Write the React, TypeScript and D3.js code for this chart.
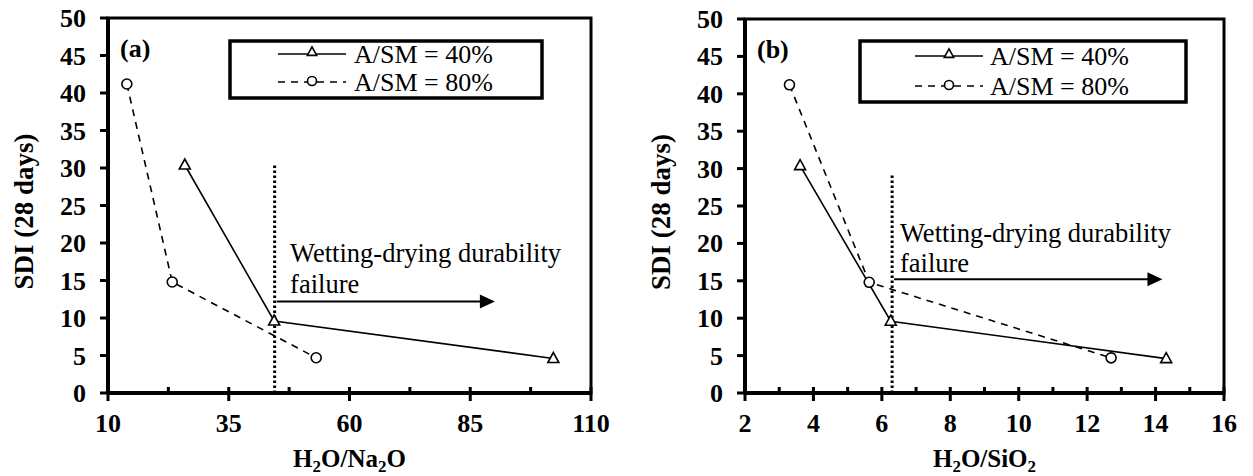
import React from "react";
import * as d3 from "d3";

// SDI after 28 days, shared by both panels
const sdi40 = [30.4, 9.6, 4.6];
const sdi80 = [41.2, 14.8, 4.7];
// H2O/Na2O ratios
const naRatio40 = [25.9, 44.4, 102.2];
const naRatio80 = [13.9, 23.3, 53.1];
// H2O/SiO2 ratios
const siRatio40 = [3.61, 6.26, 14.31];
const siRatio80 = [3.3, 5.63, 12.7];

const yTicks = [0, 5, 10, 15, 20, 25, 30, 35, 40, 45, 50];
const naTicks = [10, 35, 60, 85, 110];
const naMinor = [22.5, 47.5, 72.5, 97.5];
const siTicks = [2, 4, 6, 8, 10, 12, 14, 16];
const siMinor = [3, 5, 7, 9, 11, 13, 15];

const legendLabels = ["A/SM = 40%", "A/SM = 80%"];
const noteLines = ["Wetting-drying durability", "failure"];

const serif = { fontFamily: "Liberation Serif" };
const bold = { fontFamily: "Liberation Serif", fontWeight: 700 };

function triangle(cx: number, cy: number, s = 1) {
  return `M${cx},${cy - 6 * s}L${cx + 5.5 * s},${cy + 4 * s}L${cx - 5.5 * s},${cy + 4 * s}Z`;
}

type PanelProps = {
  tag: string;
  left: number;
  right: number;
  top: number;
  bottom: number;
  xDomain: [number, number];
  majors: number[];
  minors: number[];
  x40: number[];
  x80: number[];
  limitX: number;
  limitTop: number;
  arrowY: number;
  arrowEnd: number;
  noteX: number;
  noteY: number[];
  legend: { x0: number; x1: number; y0: number; y1: number; sample: [number, number]; textX: number; rows: number[] };
  xTitle: React.ReactNode;
};

function Panel(p: PanelProps) {
  const x = d3.scaleLinear().domain(p.xDomain).range([p.left, p.right]);
  const y = d3.scaleLinear().domain([0, 50]).range([p.bottom, p.top]);
  const line = d3.line<[number, number]>().x((d) => x(d[0])).y((d) => y(d[1]));
  const pts40 = p.x40.map((v, i) => [v, sdi40[i]] as [number, number]);
  const pts80 = p.x80.map((v, i) => [v, sdi80[i]] as [number, number]);
  const mid = (p.left + p.right) / 2;
  const lg = p.legend;
  const mk = (lg.sample[0] + lg.sample[1]) / 2;

  return (
    <g>
      {/* frame */}
      <rect x={p.left} y={p.top} width={p.right - p.left} height={p.bottom - p.top} fill="none" stroke="#000" strokeWidth={3} />
      <line x1={p.left} x2={p.left} y1={p.top} y2={p.bottom} stroke="#000" strokeWidth={4} />
      <line x1={p.left} x2={p.right} y1={p.bottom} y2={p.bottom} stroke="#000" strokeWidth={4} />

      {/* y ticks */}
      {yTicks.map((t) => (
        <g key={"y" + t}>
          <line x1={p.left - 8} x2={p.left} y1={y(t)} y2={y(t)} stroke="#000" strokeWidth={3} />
          <text x={p.left - 22} y={y(t) + 9} textAnchor="end" fontSize={26} style={bold}>
            {t}
          </text>
        </g>
      ))}

      {/* x ticks */}
      {p.majors.map((t) => (
        <g key={"x" + t}>
          <line x1={x(t)} x2={x(t)} y1={p.bottom - 6} y2={p.bottom + 8} stroke="#000" strokeWidth={3} />
          <text x={x(t)} y={p.bottom + 39} textAnchor="middle" fontSize={26} style={bold}>
            {t}
          </text>
        </g>
      ))}
      {p.minors.map((t) => (
        <line key={"m" + t} x1={x(t)} x2={x(t)} y1={p.bottom - 6} y2={p.bottom} stroke="#000" strokeWidth={3} />
      ))}

      <text x={mid} y={467} textAnchor="middle" fontSize={25} style={bold}>
        {p.xTitle}
      </text>
      <text transform={`translate(${p.left - 75},${(p.top + p.bottom) / 2 + 6}) rotate(-90)`} textAnchor="middle" fontSize={27} style={bold}>
        SDI (28 days)
      </text>

      <text x={p.left + 12} y={p.top + 39} fontSize={26} style={bold}>
        {p.tag}
      </text>

      {/* limit line and arrow */}
      <line x1={x(p.limitX)} x2={x(p.limitX)} y1={y(0)} y2={y(p.limitTop)} stroke="#000" strokeWidth={3} strokeDasharray="2.5 2.5" />
      <line x1={x(p.limitX) + 2} x2={x(p.arrowEnd) - 12} y1={y(p.arrowY)} y2={y(p.arrowY)} stroke="#000" strokeWidth={2} />
      <path
        d={`M${x(p.arrowEnd)},${y(p.arrowY)}L${x(p.arrowEnd) - 15},${y(p.arrowY) - 7}L${x(p.arrowEnd) - 15},${y(p.arrowY) + 7}Z`}
        fill="#000"
      />
      {noteLines.map((s, i) => (
        <text key={s} x={x(p.noteX)} y={y(p.noteY[i])} fontSize={26.5} style={serif}>
          {s}
        </text>
      ))}

      {/* series */}
      <path d={line(pts40) ?? ""} fill="none" stroke="#000" strokeWidth={1.6} />
      <path d={line(pts80) ?? ""} fill="none" stroke="#000" strokeWidth={1.6} strokeDasharray="7 6" />
      {pts40.map((d, i) => (
        <path key={"t" + i} d={triangle(x(d[0]), y(d[1]))} fill="#fff" stroke="#000" strokeWidth={1.6} />
      ))}
      {pts80.map((d, i) => (
        <circle key={"c" + i} cx={x(d[0])} cy={y(d[1])} r={5} fill="#fff" stroke="#000" strokeWidth={1.6} />
      ))}

      {/* legend */}
      <rect x={lg.x0} y={lg.y0} width={lg.x1 - lg.x0} height={lg.y1 - lg.y0} fill="#fff" stroke="#000" strokeWidth={3.5} />
      <line x1={lg.sample[0]} x2={lg.sample[1]} y1={lg.rows[0] - 4} y2={lg.rows[0] - 4} stroke="#000" strokeWidth={1.6} />
      <path d={triangle(mk, lg.rows[0] - 6, 0.85)} fill="#fff" stroke="#000" strokeWidth={1.6} />
      <line x1={lg.sample[0]} x2={lg.sample[1]} y1={lg.rows[1] - 4} y2={lg.rows[1] - 4} stroke="#000" strokeWidth={1.6} strokeDasharray="7 6" />
      <circle cx={mk} cy={lg.rows[1] - 5} r={4.5} fill="#fff" stroke="#000" strokeWidth={1.6} />
      {legendLabels.map((s, i) => (
        <text key={s} x={lg.textX} y={lg.rows[i] + 5} fontSize={26} style={serif}>
          {s}
        </text>
      ))}
    </g>
  );
}

export default function App() {
  // subscript 2, then the text that follows it back on the baseline
  const sub = (rest?: string) => (
    <>
      <tspan fontSize={17} dy={5}>
        2
      </tspan>
      {rest ? <tspan dy={-5}>{rest}</tspan> : null}
    </>
  );
  return (
    <svg width={1253} height={476} style={{ position: "absolute", left: 0, top: 0, background: "#fff" }}>
      <Panel
        tag="(a)"
        left={108}
        right={591}
        top={18}
        bottom={393}
        xDomain={[10, 110]}
        majors={naTicks}
        minors={naMinor}
        x40={naRatio40}
        x80={naRatio80}
        limitX={44.5}
        limitTop={30.5}
        arrowY={12.2}
        arrowEnd={90.1}
        noteX={47.7}
        noteY={[17.5, 13.3]}
        legend={{ x0: 230, x1: 542, y0: 41, y1: 98, sample: [278, 346], textX: 354, rows: [58, 86] }}
        xTitle={<>H{sub("O/Na")}{sub("O")}</>}
      />
      <Panel
        tag="(b)"
        left={745}
        right={1224}
        top={19}
        bottom={393}
        xDomain={[2, 16]}
        majors={siTicks}
        minors={siMinor}
        x40={siRatio40}
        x80={siRatio80}
        limitX={6.3}
        limitTop={29.3}
        arrowY={15.2}
        arrowEnd={14.2}
        noteX={6.53}
        noteY={[20.2, 16.2]}
        legend={{ x0: 860, x1: 1186, y0: 41, y1: 102, sample: [915, 983], textX: 990, rows: [60, 90] }}
        xTitle={<>H{sub("O/SiO")}{sub()}</>}
      />
    </svg>
  );
}
